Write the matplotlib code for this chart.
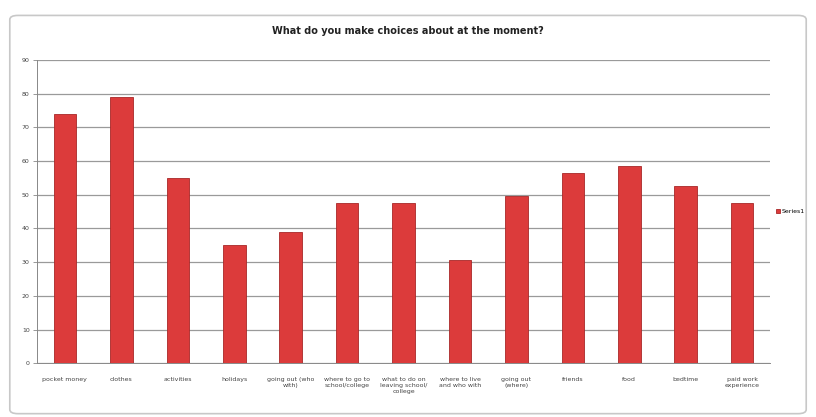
import matplotlib.pyplot as plt
from matplotlib.patches import FancyBboxPatch

# categories and values
categories = [
    'pocket money', 'clothes', 'activities', 'holidays',
    'going out (who\nwith)', 'where to go to\nschool/college',
    'what to do on\nleaving school/\ncollege', 'where to live\nand who with',
    'going out\n(where)', 'friends', 'food', 'bedtime', 'paid work\nexperience',
]
values = [74, 79, 55, 35, 39, 47.5, 47.5, 30.5, 49.5, 56.5, 58.5, 52.5, 47.5]
y_ticks = list(range(0, 100, 10))
series_name = 'Series1'

fig = plt.figure(figsize=(8.16, 4.17), dpi=100)
fig.patch.set_facecolor('white')

# chart area border
border = FancyBboxPatch((0.012, 0.008), 0.976, 0.955,
                        boxstyle='round,pad=0,rounding_size=0.01',
                        transform=fig.transFigure, fill=False,
                        edgecolor='#c8c8c8', linewidth=1.2)
fig.patches.append(border)

ax = fig.add_axes([0.045, 0.129, 0.899, 0.727])
x = range(len(categories))
ax.bar(x, values, width=0.4, color='#dc3b3b', edgecolor='#a82828',
       linewidth=0.6, label=series_name, zorder=3)

ax.set_ylim(0, 90)
ax.set_xlim(-0.5, len(categories) - 0.5)
ax.set_yticks(y_ticks)
ax.set_yticklabels([str(t) for t in y_ticks], fontsize=4.5, color='#444444')
ax.set_xticks(list(x))
ax.set_xticklabels(categories, fontsize=4.5, color='#444444', linespacing=1.3)
ax.tick_params(axis='y', length=3, width=0.6, color='#888888', pad=2)
ax.tick_params(axis='x', length=0, pad=10)
ax.yaxis.grid(True, color='#9a9a9a', linewidth=0.9, zorder=0)

for side in ['top', 'right']:
    ax.spines[side].set_visible(False)
ax.spines['left'].set_color('#888888')
ax.spines['bottom'].set_color('#888888')
ax.spines['left'].set_linewidth(0.7)
ax.spines['bottom'].set_linewidth(0.7)

fig.text(0.5, 0.925, 'What do you make choices about at the moment?',
         ha='center', va='center', fontsize=7, fontweight='bold', color='#222222')

ax.legend(loc='center left', bbox_to_anchor=(1.0, 0.5), frameon=False,
          fontsize=4.5, handlelength=0.6, handleheight=0.6, handletextpad=0.3)

fig.savefig('out.png', dpi=100)
